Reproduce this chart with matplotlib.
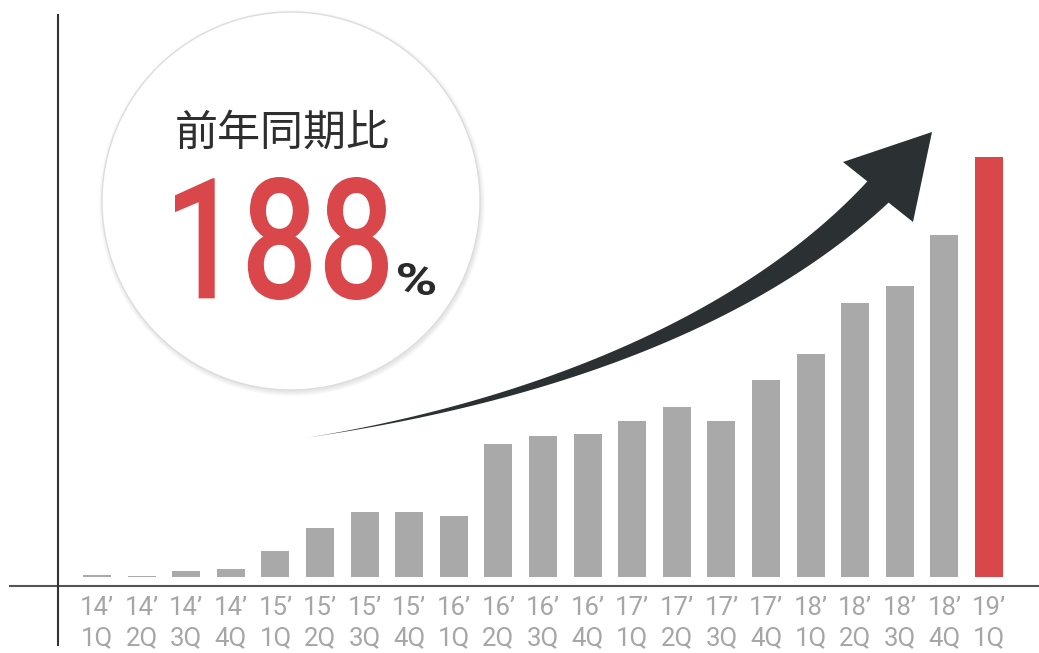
import matplotlib.pyplot as plt
import numpy as np
from matplotlib.patches import Circle, Polygon, PathPatch
from matplotlib.textpath import TextPath
from matplotlib.font_manager import FontProperties
from matplotlib.transforms import Affine2D

# quarters and values (arbitrary units)
years = ['14', '14', '14', '14', '15', '15', '15', '15', '16', '16', '16', '16',
         '17', '17', '17', '17', '18', '18', '18', '18', '19']
quarters = ['1Q', '2Q', '3Q', '4Q', '1Q', '2Q', '3Q', '4Q', '1Q', '2Q', '3Q', '4Q',
            '1Q', '2Q', '3Q', '4Q', '1Q', '2Q', '3Q', '4Q', '1Q']
values = [2, 1.5, 6, 8, 26, 49, 65, 65, 61, 133, 141, 143,
          156, 170, 156, 197, 223, 274, 291, 342, 420]
labels = [y + '\u2019\n' + q for y, q in zip(years, quarters)]
colors = ['#a9a9a9'] * (len(values) - 1) + ['#da474b']

W, H = 1039, 653
fig = plt.figure(figsize=(W / 100, H / 100), dpi=100)

# bars
ax = fig.add_axes([0, 76 / H, 1, 577 / H])
x = np.arange(len(values))
ax.bar(x, values, width=0.63, color=colors)
ax.set_xlim(-97 / 44.6, (W - 97) / 44.6)
ax.set_ylim(0, 577)
for s in ax.spines.values():
    s.set_visible(False)
ax.set_yticks([])
ax.set_xticks(x, labels)
ax.tick_params(axis='x', length=0, pad=13.5, labelsize=18.5, labelcolor='#a6a6a6')
for t in ax.get_xticklabels():
    t.set_family(['Roboto', 'DejaVu Sans'])
    t.set_linespacing(1.35)

# overlay in pixel coords for decorations
ov = fig.add_axes([0, 0, 1, 1])
ov.set_xlim(0, W)
ov.set_ylim(H, 0)
ov.axis('off')
ov.patch.set_alpha(0)

ov.plot([10, W], [586, 586], color='#555555', lw=1.5)
ov.plot([58, 58], [15, 645], color='#333333', lw=1.5)

# circle with soft shadow
cx, cy, r = 291, 201, 189
for k in range(5):
    ov.add_patch(Circle((cx + 1, cy + 2), r + k * 1.0, color='#000000', alpha=0.018, lw=0))
ov.add_patch(Circle((cx, cy), r, fc='white', ec='#dddddd', lw=1))

ov.text(282, 134, '前年同期比', fontsize=31, color='#2e2e2e', ha='center', va='center',
        family=['Noto Sans CJK JP', 'DejaVu Sans'])


def fit_text(s, box, color, weight='bold', family='Roboto'):
    fp = FontProperties(family=family, weight=weight)
    tp = TextPath((0, 0), s, size=100, prop=fp)
    ext = tp.get_extents()
    x0, y0, x1, y1 = box
    tr = (Affine2D().translate(-ext.x0, -ext.y0)
          .scale((x1 - x0) / ext.width, -(y1 - y0) / ext.height)
          .translate(x0, y1))
    ov.add_patch(PathPatch(tr.transform_path(tp), color=color, lw=0))


fit_text('188', (175, 177, 388, 300), '#da474b', weight='medium')
fit_text('%', (398, 263, 435, 295), '#2b2b2b')

# curved arrow
P = np.array([[305, 438], [520, 405], [740, 330], [878, 192]], float)
t = np.linspace(0, 1, 120)[:, None]
c = ((1 - t) ** 3) * P[0] + 3 * ((1 - t) ** 2) * t * P[1] + 3 * (1 - t) * t ** 2 * P[2] + t ** 3 * P[3]
d = 3 * ((1 - t) ** 2) * (P[1] - P[0]) + 6 * (1 - t) * t * (P[2] - P[1]) + 3 * t ** 2 * (P[3] - P[2])
d = d / np.linalg.norm(d, axis=1, keepdims=True)
n = np.column_stack([d[:, 1], -d[:, 0]])
hw = 15 * t[:, 0] ** 1.4
upper = c + n * hw[:, None]
lower = c - n * hw[:, None]
head = np.array([[843, 162], [932, 132], [913, 222]])
pts = np.vstack([upper, head, lower[::-1]])
ov.add_patch(Polygon(pts, closed=True, color='#2b3033', lw=0))

fig.savefig('out.png', dpi=100, facecolor='white')
